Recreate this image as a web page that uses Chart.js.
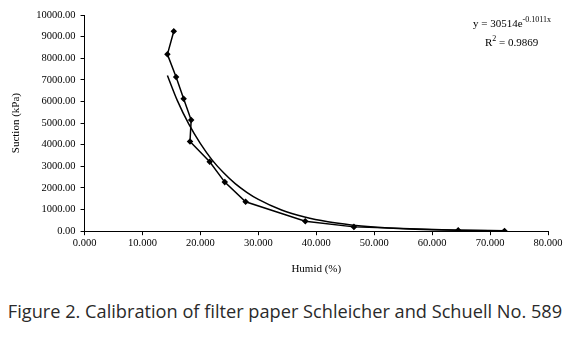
<!DOCTYPE html>
<html>
<head>
<meta charset="utf-8">
<script src="https://cdn.jsdelivr.net/npm/chart.js@4"></script>
<style>
  body { margin: 0; background: #fff; width: 570px; height: 343px; overflow: hidden; position: relative; }
  #wrap { position: absolute; left: 0; top: 0; width: 570px; height: 276px; }
  .eq { position: absolute; font-family: "Liberation Serif", serif; font-size: 11px; color: #000; white-space: nowrap; }
  .eq sup { font-size: 8px; vertical-align: 5px; line-height: 0; }
  #caption { position: absolute; left: 0; width: 570px; top: 299px; text-align: center;
    font-family: "Open Sans", sans-serif; font-size: 18.2px; color: #2a2a2a; white-space: nowrap; }
</style>
</head>
<body>
<div id="wrap"><canvas id="grafico"></canvas></div>
<div class="eq" style="left:473px; top:17px;">y = 30514e<sup>-0.1011x</sup></div>
<div class="eq" style="left:485px; top:36px;">R<sup>2</sup> = 0.9869</div>
<div id="caption">Figure 2. Calibration of filter paper Schleicher and Schuell No. 589</div>
<script>
const humedad = [15.4, 14.3, 15.8, 17.1, 18.4, 18.2, 21.6, 24.2, 27.8, 38.1, 46.5, 64.5, 72.5];
const succion = [9250, 8180, 7130, 6125, 5140, 4150, 3210, 2270, 1360, 465, 200, 46, 14];

// linea de tendencia exponencial
const tend_x = [14.3, 16, 18, 20, 22, 24, 26, 28, 30, 34, 38, 42, 46, 50, 55, 60, 65, 72.5];
const tend_y = [7200, 6050, 4950, 4050, 3300, 2700, 2200, 1800, 1470, 980, 655, 435, 290, 195, 115, 70, 43, 20];

const x_ticks = [0, 10, 20, 30, 40, 50, 60, 70, 80];
const y_ticks = [0, 1000, 2000, 3000, 4000, 5000, 6000, 7000, 8000, 9000, 10000];

const serif = "'Liberation Serif', 'Times New Roman', serif";
const ctx = document.getElementById("grafico").getContext("2d");

const puntos = humedad.map((h, i) => ({ x: h, y: succion[i] }));
const tendencia = tend_x.map((h, i) => ({ x: h, y: tend_y[i] }));

new Chart(ctx, {
  type: "scatter",
  data: {
    datasets: [
      {
        label: "Medido",
        data: puntos,
        showLine: true,
        borderColor: "#000",
        backgroundColor: "#000",
        borderWidth: 1.5,
        pointStyle: "rectRot",
        pointRadius: 2.2,
        tension: 0,
      },
      {
        label: "Tendencia",
        data: tendencia,
        showLine: true,
        borderColor: "#000",
        borderWidth: 1.5,
        pointRadius: 0,
        cubicInterpolationMode: "monotone",
      },
    ],
  },
  options: {
    responsive: true,
    maintainAspectRatio: false,
    animation: false,
    layout: { padding: { top: 15, right: 22, left: 10, bottom: 0 } },
    plugins: { legend: { display: false }, tooltip: { enabled: false } },
    scales: {
      x: {
        type: "linear",
        min: 0,
        max: 80,
        afterBuildTicks: (axis) => { axis.ticks = x_ticks.map((v) => ({ value: v })); },
        ticks: { color: "#000", font: { family: serif, size: 10.5 }, padding: 2, maxRotation: 0,
          callback: (v) => v.toFixed(3) },
        grid: { drawOnChartArea: false, color: "#000", tickLength: 4 },
        border: { color: "#000", width: 1 },
        title: { display: true, text: "Humid (%)", color: "#000", font: { family: serif, size: 11 }, padding: { top: 11, bottom: 0 } },
      },
      y: {
        type: "linear",
        min: 0,
        max: 10000,
        afterBuildTicks: (axis) => { axis.ticks = y_ticks.map((v) => ({ value: v })); },
        ticks: { color: "#000", font: { family: serif, size: 10.5 }, padding: 5,
          callback: (v) => v.toFixed(2) },
        grid: { drawOnChartArea: false, color: "#000", tickLength: 4 },
        border: { color: "#000", width: 1 },
        title: { display: true, text: "Suction (kPa)", color: "#000", font: { family: serif, size: 11 }, padding: { top: 0, bottom: 8 } },
      },
    },
  },
});
</script>
</body>
</html>
